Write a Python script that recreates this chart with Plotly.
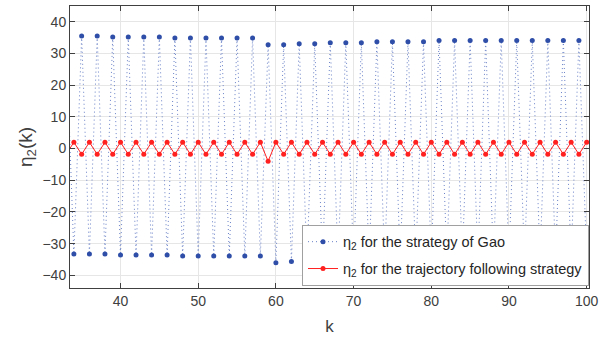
import plotly.graph_objects as go

k = list(range(33, 101))

gao_high = {33: 35.5, 35: 35.5, 37: 35.5, 39: 35.2, 41: 35.2, 43: 35.2, 45: 35.2,
            47: 34.9, 49: 34.9, 51: 34.9, 53: 34.9, 55: 34.9, 57: 34.9,
            59: 32.8, 61: 32.8, 63: 33.1, 65: 33.1, 67: 33.4, 69: 33.4, 71: 33.4,
            73: 33.7, 75: 33.7, 77: 33.7, 79: 33.7, 81: 34.1, 83: 34.1, 85: 34.1,
            87: 34.1, 89: 34.1, 91: 34.1, 93: 34.1, 95: 34.1, 97: 34.1, 99: 34.1}
gao_low = {34: -33.3, 36: -33.3, 38: -33.3, 40: -33.6, 42: -33.6, 44: -33.6, 46: -33.6,
           48: -33.9, 50: -33.9, 52: -33.9, 54: -33.9, 56: -33.9, 58: -33.9,
           60: -36.0, 62: -35.6, 64: -35.6, 66: -35.3, 68: -35.3, 70: -35.3,
           72: -35.0, 74: -35.0, 76: -35.0, 78: -35.0, 80: -34.6, 82: -34.6,
           84: -34.6, 86: -34.6, 88: -34.6, 90: -34.6, 92: -34.6, 94: -34.6,
           96: -34.6, 98: -34.6, 100: -34.3}
gao = [gao_high.get(i, gao_low.get(i)) for i in k]

traj = [(-4.0 if i == 59 else (2.0 if i % 2 == 0 else -1.8)) for i in k]

fig = go.Figure()
fig.add_trace(go.Scatter(
    x=k, y=gao, mode="lines+markers", legendgroup="a",
    name="η<sub>2</sub> for the strategy of Gao",
    line=dict(color="#6a82c8", width=1, dash="1px,3px"),
    marker=dict(color="#2e4ea8", size=5),
))
fig.add_trace(go.Scatter(
    x=k, y=traj, mode="lines+markers", legendgroup="b",
    name="η<sub>2</sub> for the trajectory following strategy",
    line=dict(color="#ff2020", width=1),
    marker=dict(color="#ff2020", size=5),
))

axis_common = dict(
    showline=True, linecolor="#404040", linewidth=1, mirror="allticks",
    ticks="inside", ticklen=5, tickcolor="#404040", automargin=False,
    showgrid=True, gridcolor="#e6e6e6", gridwidth=1, zeroline=False,
    tickfont=dict(family="Liberation Sans, Arial", size=14, color="#404040"),
)

fig.update_xaxes(range=[33.5, 100.3], tickvals=[40, 50, 60, 70, 80, 90, 100],
                 title=dict(text="k", font=dict(family="Liberation Sans, Arial", size=17, color="#404040"), standoff=12),
                 **axis_common)
fig.update_yaxes(range=[-44, 45], tickvals=[-40, -30, -20, -10, 0, 10, 20, 30, 40],
                 title=dict(text="η<sub>2</sub>(k)", font=dict(family="Liberation Sans, Arial", size=19, color="#404040"), standoff=4),
                 **axis_common)

fig.update_layout(
    width=610, height=337,
    margin=dict(l=70, r=21, t=6, b=49),
    plot_bgcolor="white", paper_bgcolor="white",
    legend=dict(x=1, y=0.008, xanchor="right", yanchor="bottom",
                bgcolor="white", bordercolor="#a0a0a0", borderwidth=1,
                font=dict(family="Liberation Sans, Arial", size=14.5, color="#262626"),
                tracegroupgap=5),
)

fig.write_html("out.html", config={"displayModeBar": False},
               post_script="document.body.style.margin='0';document.body.style.overflow='hidden';")
